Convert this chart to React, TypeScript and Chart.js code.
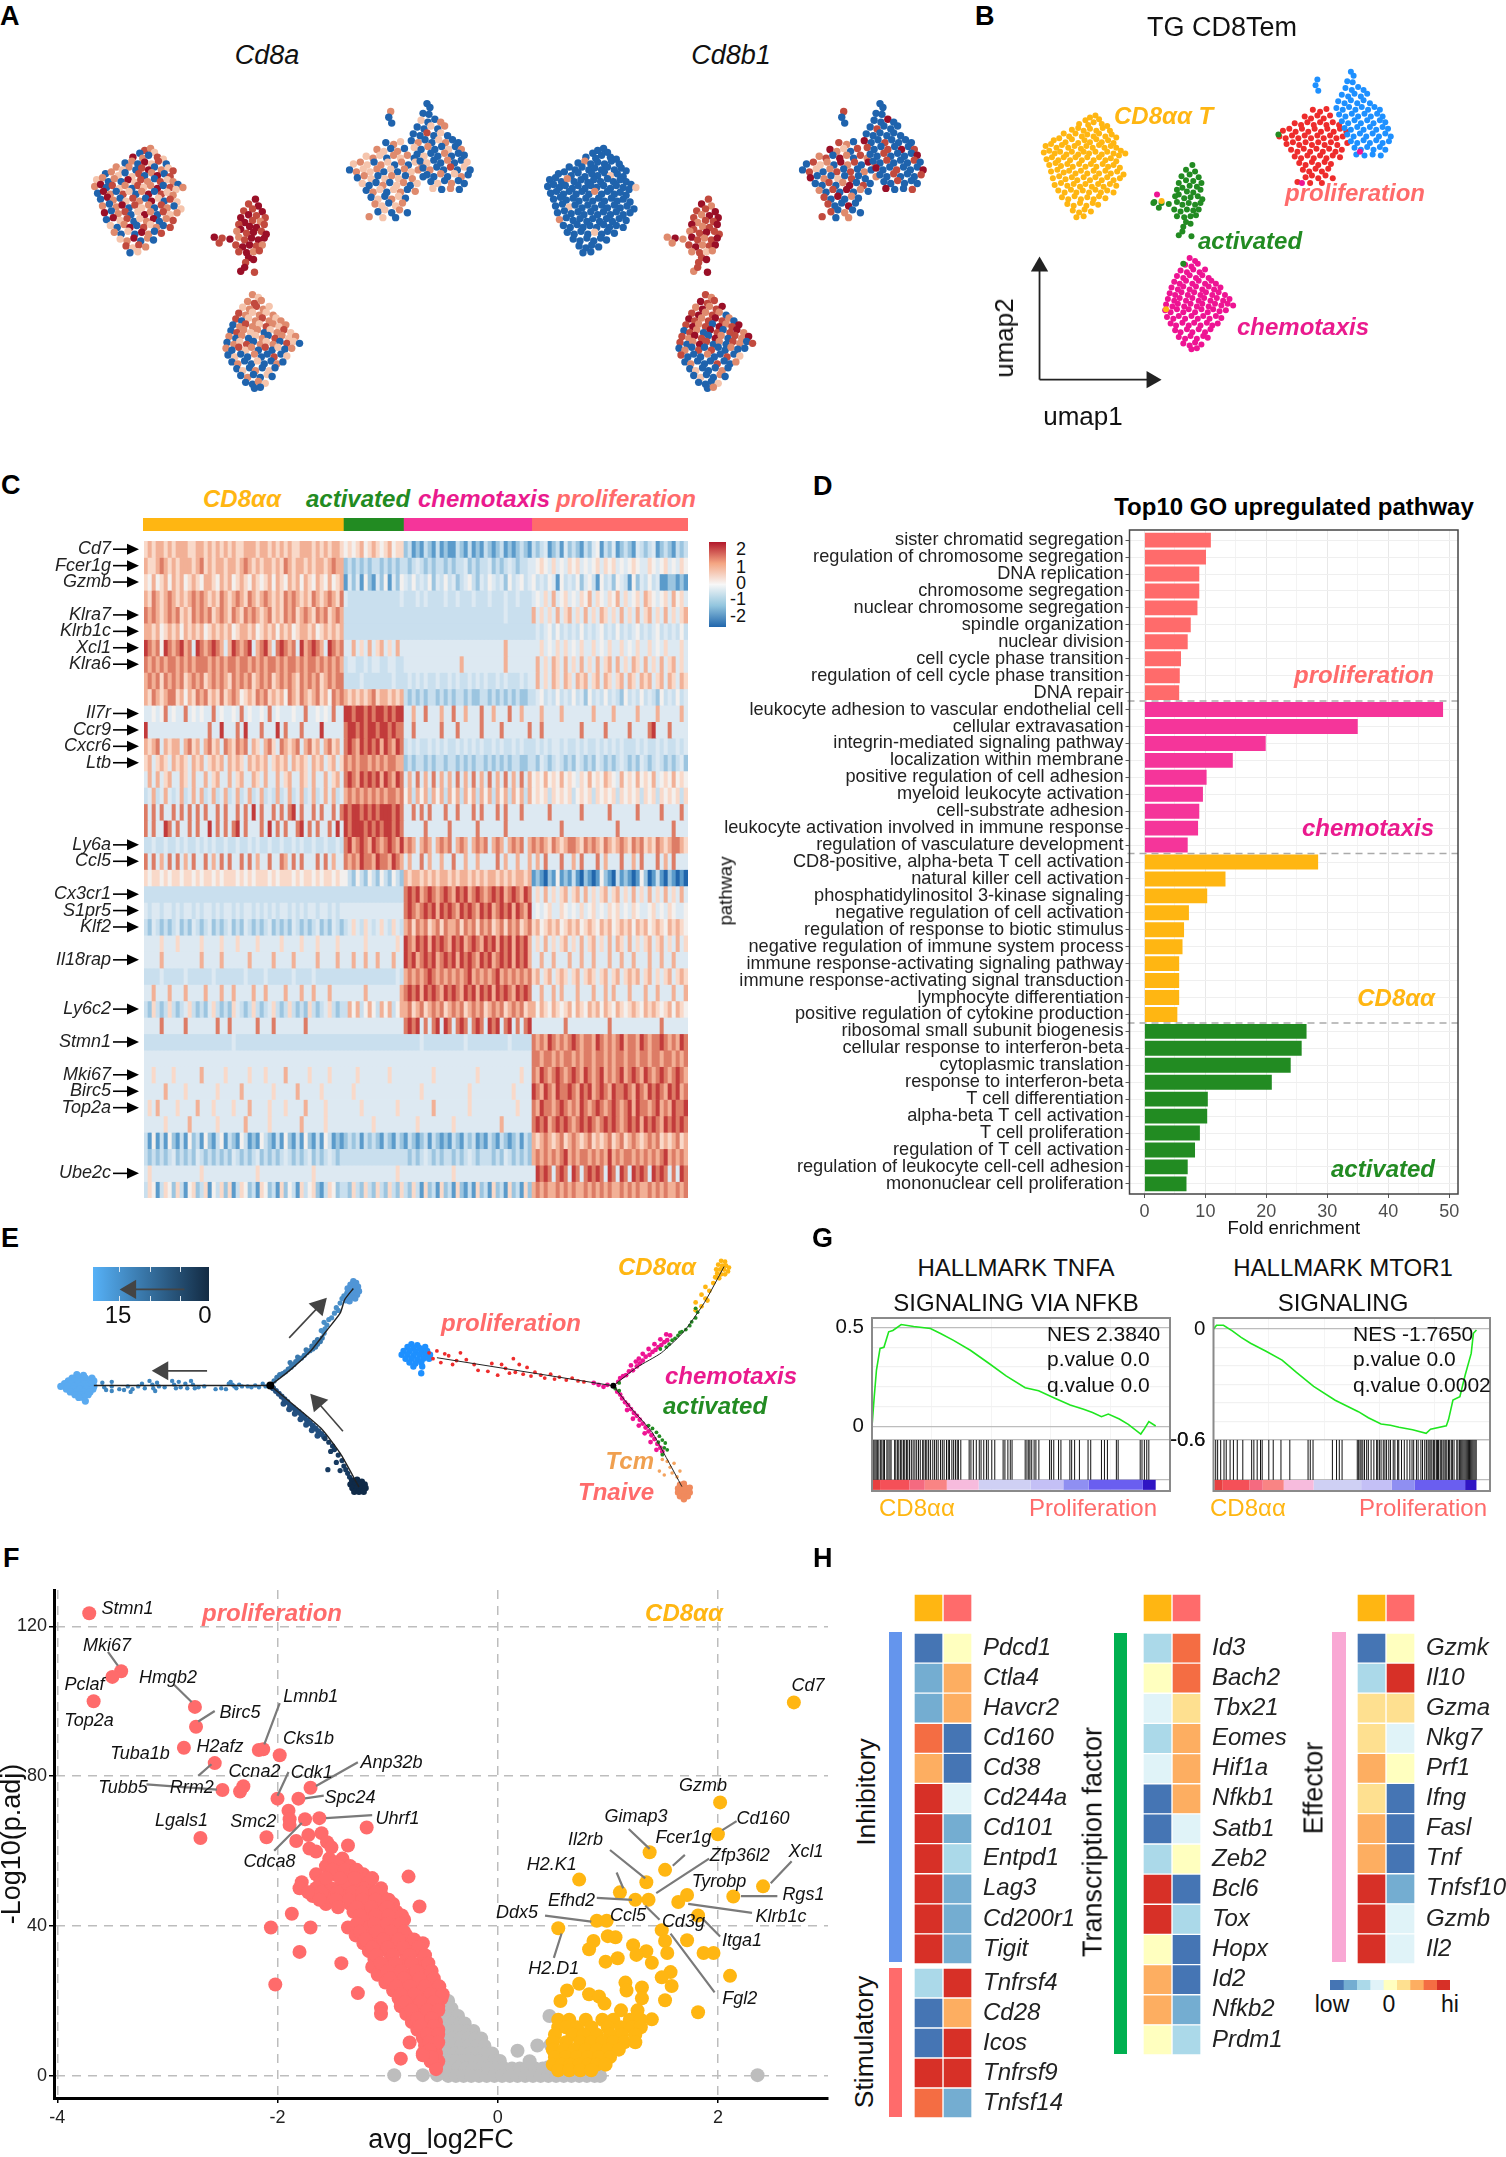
import React, { useEffect, useRef } from 'react';
import { Chart, registerables } from 'chart.js';

Chart.register(...registerables);
const FONT = "'Liberation Sans', Arial, sans-serif";
Chart.defaults.font.family = FONT;

const ORANGE = '#ffb612', RED = '#ff6b6b', GREEN = '#228b22', MAG = '#f5359a', TXT_MAG = '#ea1a8e';

/* ---------- A / B : UMAP ---------- */
const UMAP_L = [[62,58],[68,56],[57,61],[72,60],[50,65],[60,66],[66,63],[75,65],[81,67],[42,71],[49,69],[55,72],[62,70],[69,72],[76,69],[84,72],[33,75],[39,78],[46,75],[53,78],[59,76],[66,78],[72,75],[79,78],[86,76],[91,79],[22,82],[28,80],[35,84],[42,81],[49,85],[56,82],[62,84],[69,81],[75,84],[82,82],[88,85],[13,88],[19,86],[25,90],[31,87],[38,90],[45,88],[52,91],[58,88],[65,90],[72,87],[78,90],[85,88],[91,90],[96,93],[11,95],[17,93],[23,96],[29,94],[36,97],[42,94],[49,97],[55,94],[61,96],[68,94],[75,97],[81,94],[88,96],[94,98],[101,96],[14,102],[20,100],[27,103],[33,100],[40,103],[46,100],[53,103],[59,100],[66,103],[72,100],[79,103],[85,101],[91,104],[17,108],[24,106],[30,109],[37,107],[43,110],[50,107],[57,110],[63,107],[69,110],[76,107],[82,110],[88,108],[95,111],[19,115],[26,113],[33,116],[39,114],[46,117],[52,114],[59,117],[66,114],[72,117],[79,114],[85,117],[92,115],[99,118],[21,122],[28,120],[35,123],[42,121],[48,124],[55,121],[62,124],[68,121],[75,124],[81,121],[88,124],[95,122],[23,129],[30,127],[37,130],[44,128],[51,131],[57,128],[64,131],[71,128],[77,131],[84,128],[91,130],[27,135],[34,137],[41,134],[47,137],[54,135],[61,137],[68,134],[74,137],[81,135],[88,137],[31,142],[38,144],[45,141],[52,144],[59,142],[66,144],[72,141],[79,143],[37,149],[44,151],[51,148],[58,151],[65,148],[71,150],[43,156],[50,158],[56,155],[63,157],[47,163],[55,162]];
const UMAP_M = [[175,108],[168,113],[178,115],[172,118],[163,120],[182,121],[168,124],[176,125],[160,127],[185,127],[172,130],[180,131],[164,132],[158,134],[169,136],[176,137],[184,134],[160,139],[156,141],[166,143],[173,142],[181,141],[186,144],[133,147],[141,148],[149,149],[158,147],[164,150],[171,148],[178,150],[184,148],[138,153],[155,155],[162,157],[169,155],[176,156],[182,155],[158,162],[166,163],[173,162],[179,161],[168,168],[173,170],[165,173],[160,182],[174,183],[164,178]];
const UMAP_B = [[172,206],[178,209],[167,213],[174,215],[181,212],[162,219],[169,221],[176,218],[183,221],[189,218],[158,225],[165,227],[172,224],[179,227],[186,224],[193,227],[155,231],[161,233],[168,230],[175,233],[182,230],[189,233],[196,230],[201,233],[152,237],[159,239],[165,236],[172,239],[179,236],[186,239],[193,236],[199,239],[206,237],[150,243],[156,245],[163,242],[170,245],[177,242],[184,245],[190,242],[197,245],[204,242],[211,245],[148,249],[155,251],[161,248],[168,251],[175,248],[182,251],[188,248],[195,251],[202,248],[209,251],[216,249],[146,255],[153,257],[159,254],[166,257],[173,254],[180,257],[186,254],[193,257],[200,254],[207,256],[214,254],[220,256],[145,261],[151,263],[158,260],[165,263],[171,260],[178,263],[185,260],[192,263],[198,260],[205,262],[212,261],[147,268],[154,270],[160,267],[167,270],[174,267],[181,270],[187,267],[194,270],[201,267],[207,269],[151,275],[157,277],[164,274],[171,277],[177,274],[184,277],[191,274],[197,277],[203,275],[156,282],[162,284],[169,281],[175,284],[182,281],[189,284],[195,281],[160,289],[167,291],[173,288],[180,291],[187,288],[192,290],[165,296],[172,298],[178,295],[185,297],[174,302],[180,301]];
const UMAP_TR = [[308,50],[316,52],[323,49],[299,57],[306,59],[313,56],[320,59],[327,56],[288,64],[295,66],[302,63],[309,66],[316,63],[323,66],[330,63],[337,66],[275,72],[282,70],[289,73],[296,70],[303,73],[310,70],[317,73],[324,70],[331,73],[338,70],[345,73],[271,78],[278,80],[285,77],[292,80],[299,77],[306,80],[313,77],[320,80],[327,77],[334,80],[341,78],[279,86],[286,84],[293,87],[300,84],[307,87],[314,84],[321,87],[328,84],[335,87],[346,85],[284,92],[291,94],[298,91],[305,94],[312,91],[319,94],[326,91],[333,94],[340,92],[288,99],[295,101],[302,98],[309,101],[316,98],[323,101],[330,98],[338,100],[293,106],[300,108],[307,105],[314,108],[321,105],[328,107],[297,113],[304,115],[311,112],[318,115],[325,112],[300,121],[307,119],[314,122],[322,119],[330,122],[291,126],[305,127],[318,127]];
const UMAP_TB = [[350,10],[353,14],[346,20],[352,21],[313,18],[311,24],[314,30],[344,27],[351,29],[358,26],[364,29],[340,34],[347,36],[354,33],[361,36],[368,33],[336,41],[343,43],[350,40],[357,43],[364,40],[371,43],[334,48],[341,50],[348,47],[355,50],[362,47],[369,50],[376,47],[382,50],[337,55],[344,57],[351,54],[358,57],[365,54],[372,57],[379,54],[385,57],[340,62],[347,64],[354,61],[361,64],[368,61],[375,64],[382,61],[388,63],[343,69],[350,71],[357,68],[364,71],[371,68],[378,71],[385,68],[391,70],[346,76],[353,78],[360,75],[367,78],[374,75],[381,78],[388,75],[394,78],[350,83],[357,85],[364,82],[371,85],[378,82],[385,85],[392,83],[354,90],[361,92],[368,89],[375,92],[382,89],[388,92],[356,97],[365,98],[374,97],[383,98]];
const UMAP_STRAY_PINK = [[136,139],[360,94],[296,127]];
const UMAP_STRAY_ORANGE = [[141,146],[146,260]];
const UMAP_STRAY_GREEN = [[132,148],[165,212],[270,76]];
const CD8A_L = '3201420310 2041302120 3402130210 1302403120 2041320312 0240312031 2403120420 3102403120 4201320410 3120240312 0320140230 1420312041 3012402310 2403120320 1042031240 2031';
const CD8A_M = '4343344343 3243443423 4344342344 4334432342 3443434434';
const CD8A_B = '2123212321 3212123012 3212023213 2120321201 2312020120 3212021302 1203102031 2030102010 0200301020 0100200102 0100200100 0210020100 0020010030 0100200102';
const CD8A_TR = '0212102012 1021201210 2102012021 1201021202 1012102010 0201201021 0120201021 0210120102 02102010';
const CD8A_TB = '0000200100 2001020030 1002001200 1020010201 0020000100 2001020030 1000201200 1020010201 00200100';
const CD8B_L = '0000000000 2000000000 0000000000 0000100000 2000000000 0000000000 0000010000 0002000000 0000000000 0000100000 0000000000 0000000200 0000000000 0000000000 0010000000 0000';
const CD8B_M = '3423342434 3324234323 4332424323 4234234231 2343243234';
const CD8B_B = '3243324234 3423204323 4320342304 2340320430 3423243042 0324302430 2032030203 0300200300 0200301020 0030020100 0200100200 0010200300 0102003000 0200100300';
const CD8B_TR = '3204210323 0420320312 0423042031 0230302040 2010300200 3024030203 0402030402 0300403020 03020040';
const CD8B_TB = '0000300004 0030000000 0040030000 3003040300 3000040030 0030400300 0400300030 0300040030 00300400';
const EXPR_COLORS = ['#1f63ad', '#f5c4ac', '#df8a6d', '#c24a3e', '#9a0f27'];

/* ---------- C : heat map ---------- */
const C_GROUP_SIZES = [50, 15, 32, 39];
const C_GROUP_COLORS = [ORANGE, GREEN, MAG, RED];
const C_GENE_ROWS: [string, number][] = [['Cd7',0],['Fcer1g',1],['Gzmb',2],['Klra7',4],['Klrb1c',5],['Xcl1',6],['Klra6',7],['Il7r',10],['Ccr9',11],['Cxcr6',12],['Ltb',13],['Ly6a',18],['Ccl5',19],['Cx3cr1',21],['S1pr5',22],['Klf2',23],['Il18rap',25],['Ly6c2',28],['Stmn1',30],['Mki67',32],['Birc5',33],['Top2a',34],['Ube2c',38]];
const C_HEAT_COLORS = ['#2166ac','#5b9bcb','#9cc5e0','#c9dfee','#dde9f2','#f3f0ee','#f9d9c9','#f2b096','#dd7c66','#c23b3b'];
const C_ROWS = [
'6767767677 7667767676 7676677767 7676767667 7767676776|5656756765 67566|2312132131 2113213121 3212312123 21|3234123142 3213245132 4123214323 412321323',
'7667876767 7767867677 6776787676 7767687677 6767767877|2323232332 32323|3234323233 2323342323 3423234323 34|4565464546 5645456465 6454565446 545645465',
'6575675767 5676577657 6756765765 6757657675 7657657567|1424152142 51425|4353435243 5342345324 3543425345 34|5343541534 3524531534 2543152435 341122121',
'7687678767 6787876768 7678768767 8767687876 7687678768|4333333333 33334|3334343333 4334333433 3433343343 33|4546474564 5465746546 5746456476 545647564',
'8787678786 7687878678 7687687876 7867687867 8768786787|3333333333 33333|3333333333 3333333333 3333343333 33|7464647467 4647464764 6474647467 464746467',
'7767567675 7676756767 6756776756 7675767567 7675676767|3333333333 33333|3333333333 3333333333 3333333333 33|3434535343 4353434534 3534345343 453434353',
'9878598789 7849878987 4798789478 9748987849 7898749878|4474647467 46474|4444444444 4444444444 4444474444 44|4464546464 5464464546 4464546446 454644464',
'8787878878 7878887878 7887887878 7887878878 7887878787|3443343443 34433|4444444444 4444744444 4444474444 44|4746476474 6474647467 4746476474 647467464',
'7878687878 6787867878 7687878678 7867878768 7878678788|3333433333 33433|3434343343 3434334343 4334343334 34|4746476476 4767467476 4674764767 467476476',
'7687678867 5768786768 6787567687 8676758768 7678675878|7676767867 76767|3232323323 2323323223 3232323232 23|3453435343 5342534353 4325343534 3253435343',
'4454584544 8454544845 4454845445 4845444544 8445454844|9989989899 89899|4474484447 4484474448 4474448447 44|4474444744 4444474444 7444447444 474444474',
'9444444444 4444448449 4448494448 4449484448 4444944444|8998989989 98988|4484444448 4448444448 4444844444 48|4484444444 4484444484 4444844448 944484444',
'7678476774 7867478674 8768784764 7864876784 7867478674|8987989897 98798|3434334343 4334343434 3343433434 33|3434344343 3434334343 4343334343 343433434',
'6746764767 6476746767 4767647676 7467674767 6476746746|8787887878 78877|2323323233 2332323233 2323232332 23|3243234323 2432324323 2343232432 343232342',
'4747467447 6474474674 4746744764 7447467447 6474474674|8987989897 98798|4748474847 4748474847 4847484748 47|5657565756 5465756576 5475657565 745657565',
'3473474347 3474734734 7347347347 3437347347 3473474734|7878787878 78878|5737573757 3757375737 5737573757 37|5656365656 3565636565 6365656365 636565636',
'8484844848 4848484484 8448484948 4484848948 4484844848|9899898989 99898|4484848444 8448444848 4448484448 44|4444844444 4484444448 4444448444 448444484',
'8484498484 4848449484 8489484448 4948484489 4848448494|9899989898 99898|4444484444 4844444484 4444484444 44|4444444844 4444444444 4844444444 444448444',
'3343343343 4334343433 4334334343 3433433434 3343343343|8978987987 89879|7874787478 7847874787 8478747878 47|8787687678 8768787687 6787687867 687678876',
'8484748484 7484484748 4844848474 4844874848 4448484744|8787988798 87987|4744847447 4484474474 4448474474 47|4748444844 7484448474 4484474844 484748444',
'6566565665 6656566565 6665656566 6565666565 6656566565|5325325325 32532|7677676767 7676776767 6776767677 67|1210215121 3102101521 0312101520 131021010',
'3333333333 3333333333 3333333333 3333333333 3333333333|3333333333 33333|8989789878 9879897898 7898978987 98|4647464674 6747464674 6746474647 464746474',
'4344344343 4434344343 4434344343 4343443434 3443443434|4444444444 44444|8987898979 8987989879 8978989798 79|4545644654 5464564546 5645465445 645465445',
'3243232342 3243234232 3423243232 3423232432 3234232432|3464364346 43643|7868786786 8778687868 7867868786 78|6756767567 6756765767 5676757675 676576765',
'4444644464 4444644446 4446444464 4444644446 4446444464|4444464444 44464|9879897989 8798978987 9897989798 97|4647464674 6474674647 4764746467 467464746',
'4444744444 4444744447 4444447444 4474444744 4447444474|4474474474 44744|9897898978 9897989879 8978989798 97|4474474447 4474474447 4474474447 447447444',
'3333433333 4333333433 3333343333 4333333433 3343333333|3333333333 33343|7878789878 7878789787 8789787878 78|6746746764 6746764674 6746767467 464674676',
'4474447444 7444474447 4474444744 7444474447 4474447444|4444474444 44447|8989798987 9898798979 8979898798 98|4474474744 4744474474 7444744474 474447447',
'3263236323 4632324632 3264323632 3463236323 2632346323|3757357537 57357|7867867878 6787867878 6787867878 67|7576576567 5765767576 5765676576 765675765',
'4444844444 8444444484 4844444484 4484444444 8444444444|4444444444 44444|8989484894 9848984898 4989489484 89|4444444484 4444444448 4444444444 448444444',
'3333333333 3333333333 3343333333 3333333333 3333333333|3333333333 33333|3333433333 3333343333 3333334333 33|8787987878 9878879878 7897887987 889878798',
'4444444444 4444444444 4444444444 4444444444 4444444444|4444444444 44444|4444444444 4444444444 4444444444 44|8878878788 7878878878 7887887887 887887878',
'4464444644 4444744444 6444446444 6444474444 4644446444|4446444444 46444|4444444644 4444444464 4444444446 44|8798789878 9879878978 7897898798 789878987',
'4444474444 6444444464 4444744444 4464444474 4444644444|4464444444 44444|4444644444 4444446444 4444444644 44|9879879889 8798978987 9889879879 898798978',
'4647444464 4447444644 4464447444 4644464444 7444464444|4444644444 44464|4444444744 4444446444 4444444464 44|8798878987 8798789878 9878979887 897879889',
'4444464444 4744444464 4444474444 4644444447 4444464444|4444444644 44444|4446444444 4464444444 4444744444 44|8989789898 7898987898 9878989798 987989898',
'3151315213 1523152135 1321531215 3213152131 5213153121|2323132321 32132|1321231321 2132132312 1321321231 32|7678767867 8767867678 6786787678 786767867',
'3232323423 2324323232 3243232342 3232343232 3423234323|3333333333 33333|3232343232 3323234323 3323243232 32|7878787897 8788787879 7878878787 878978787',
'4644444444 4444644444 4444444464 4444444444 4464444444|4444444444 44464|4444444444 4464444444 4444444444 44|4989848984 9848989849 8498498984 989848498',
'3651365263 1562361536 2613652316 5231625316 3562136523|3263263263 26326|3263162316 2316213162 3162316231 62|7878778787 8778787878 7787878778 787877878',
];

/* ---------- D : GO bars ---------- */
const D_LABELS = ['sister chromatid segregation','regulation of chromosome segregation','DNA replication','chromosome segregation','nuclear chromosome segregation','spindle organization','nuclear division','cell cycle phase transition','regulation of cell cycle phase transition','DNA repair','leukocyte adhesion to vascular endothelial cell','cellular extravasation','integrin-mediated signaling pathway','localization within membrane','positive regulation of cell adhesion','myeloid leukocyte activation','cell-substrate adhesion','leukocyte activation involved in immune response','regulation of vasculature development','CD8-positive, alpha-beta T cell activation','natural killer cell activation','phosphatidylinositol 3-kinase signaling','negative regulation of cell activation','regulation of response to biotic stimulus','negative regulation of immune system process','immune response-activating signaling pathway','immune response-activating signal transduction','lymphocyte differentiation','positive regulation of cytokine production','ribosomal small subunit biogenesis','cellular response to interferon-beta','cytoplasmic translation','response to interferon-beta','T cell differentiation','alpha-beta T cell activation','T cell proliferation','regulation of T cell activation','regulation of leukocyte cell-cell adhesion','mononuclear cell proliferation'];
const D_PROLIF = [10.9,10.1,9.0,9.0,8.7,7.6,7.1,6.0,5.8,5.7];
const D_CHEMO = [49,35,19.9,14.5,10.2,9.6,9.0,8.8,7.1];
const D_CD8 = [28.5,13.3,10.3,7.3,6.5,6.25,5.7,5.7,5.7,5.4];
const D_ACT = [26.6,25.8,24,20.9,10.4,10.3,9.1,8.3,7.1,6.9];
const D_BREAKS = [9.5, 18.5, 28.5];

/* ---------- E : trajectories ---------- */
const E1_BLOB = [[-205,-12],[-198,-11],[-210,-8],[-203,-8],[-196,-8],[-189,-8],[-214,-5],[-207,-5],[-200,-5],[-193,-5],[-187,-5],[-218,-2],[-211,-2],[-204,-2],[-197,-2],[-190,-2],[-222,1],[-215,1],[-208,1],[-201,1],[-194,1],[-187,1],[-216,4],[-209,4],[-202,4],[-195,4],[-188,4],[-212,7],[-205,7],[-198,7],[-191,7],[-207,10],[-200,10],[-193,10],[-198,13],[-196,17],[-203,13]];
const E1_LEFT = [[-178,-3],[-176,2],[-174,5],[-168,-4],[-168,1],[-168,6],[-160,4],[-155,5],[-151,1],[-148,7],[-146,4],[-140,1],[-136,-2],[-133,3],[-128,-5],[-125,-1],[-124,3],[-122,6],[-120,-3],[-118,1],[-112,2],[-104,-5],[-102,-1],[-100,3],[-97,-4],[-95,2],[-90,-2],[-88,3],[-84,-5],[-82,-1],[-80,3],[-76,2],[-70,1],[-58,4],[-52,3],[-47,4],[-44,-2],[-42,-4],[-40,-1],[-38,1],[-36,3],[-33,-1],[-30,1],[-24,1],[-20,2],[-16,0],[-12,2],[-8,-2],[-5,1]];
const E1_UP_NEAR = [[4,-5],[7,-9],[10,-12],[13,-13],[16,-15],[19,-18],[22,-20],[25,-23],[21,-25],[27,-26],[30,-28],[33,-30],[29,-31],[36,-33],[39,-36],[42,-38],[38,-39],[45,-40],[48,-42],[44,-43],[50,-45],[47,-47],[53,-48],[50,-50],[55,-52]];
const E1_UP_FAR = [[57,-57],[54,-60],[58,-62],[60,-66],[57,-69],[62,-72],[65,-74],[68,-79],[72,-82],[70,-85],[74,-90],[76,-95],[78,-98],[81,-101]];
const E1_UP_BLOB = [[88,-114],[91,-112],[85,-110],[89,-109],[93,-108],[82,-106],[86,-105],[90,-104],[94,-103],[84,-101],[88,-100],[92,-99],[82,-97],[86,-96],[90,-95],[80,-93],[84,-92]];
const E1_DN_NEAR = [[3,3],[6,6],[9,9],[12,12],[15,15],[18,18],[14,20],[21,22],[24,24],[20,26],[27,27],[30,29],[26,31],[33,32],[36,35],[32,37],[39,38],[42,41],[38,43],[45,44],[48,47],[44,49],[51,50],[54,53],[50,55],[57,56]];
const E1_DN_FAR = [[58,58],[62,62],[66,66],[68,70],[64,72],[72,76],[76,82],[70,84],[78,88],[80,92],[82,96],[84,100],[86,103],[61,92],[74,93],[88,104]];
const E1_DN_BLOB = [[87,104],[92,103],[97,105],[85,108],[90,108],[95,108],[100,108],[87,112],[92,112],[97,112],[101,112],[89,116],[94,116],[99,116]];
const E1_LINE_L = [[-187,0],[0,0]];
const E1_LINE_U = [[0,0],[20,-16],[43,-38],[59,-59],[74,-79],[79,-94],[88,-106]];
const E1_LINE_D = [[0,0],[28,24],[54,47],[74,74],[94,111]];
const E2_BLUE = [[-206,-43],[-200,-42],[-210,-40],[-204,-39],[-198,-39],[-192,-40],[-214,-36],[-208,-36],[-202,-35],[-196,-36],[-190,-36],[-216,-32],[-210,-32],[-204,-31],[-198,-32],[-192,-32],[-187,-32],[-212,-28],[-206,-28],[-200,-27],[-194,-28],[-188,-28],[-208,-24],[-202,-23],[-196,-24],[-204,-20],[-195,-20],[-196,-13]];
const E2_RED = [[-188,-34],[-184,-28],[-180,-36],[-176,-24],[-172,-33],[-168,-31],[-164,-22],[-160,-26],[-156,-34],[-150,-27],[-142,-22],[-138,-16],[-128,-15],[-124,-23],[-118,-11],[-114,-22],[-110,-18],[-106,-13],[-102,-28],[-100,-14],[-96,-22],[-92,-12],[-88,-19],[-84,-10],[-80,-14],[-74,-11],[-70,-8],[-64,-12],[-60,-7],[-55,-9],[-48,-6],[-42,-8],[-36,-5],[-30,-4]];
const E2_MAG = [[-20,-3],[-15,-1],[-10,1],[-6,-1],[7,-8],[5,-4],[10,-10],[13,-11],[16,-15],[20,-16],[18,-21],[24,-20],[23,-25],[27,-23],[26,-28],[30,-26],[33,-30],[30,-33],[37,-32],[40,-35],[36,-38],[43,-37],[46,-40],[42,-43],[49,-42],[52,-45],[48,-48],[55,-47],[58,-52],[54,-53],[4,6],[7,9],[9,13],[12,17],[15,20],[18,24],[14,25],[21,28],[24,31],[20,34],[27,35],[30,39],[26,41],[33,43],[36,47],[32,49],[39,51],[42,55],[38,58],[45,60],[48,64],[44,66],[50,68]];
const E2_GREEN = [[6,-3],[48,-38],[54,-40],[57,-43],[60,-47],[63,-49],[66,-52],[70,-56],[68,-55],[74,-58],[78,-62],[80,-66],[84,-70],[86,-76],[84,-80],[2,3],[6,5],[36,41],[40,44],[44,48],[47,52],[50,56],[46,58],[53,59],[52,64],[55,66],[50,71]];
const E2_ORANGE = [[84,-78],[90,-82],[84,-86],[94,-90],[90,-94],[98,-98],[94,-102],[102,-106],[105,-112],[96,-88],[110,-129],[114,-128],[107,-125],[111,-124],[115,-124],[118,-122],[105,-120],[109,-120],[113,-120],[117,-118],[106,-116],[110,-115],[114,-115],[104,-112],[108,-111]];
const E2_TCM = [[50,76],[55,78],[47,88],[58,84],[62,80],[60,90],[65,94],[68,88],[52,92],[70,101]];
const E2_TN = [[68,102],[72,101],[66,106],[70,106],[74,105],[78,105],[66,110],[70,110],[74,110],[78,110],[68,114],[72,114],[76,114],[72,117]];
const E2_LINE_L = [[-180,-29],[0,0]];
const E2_LINE_U = [[0,0],[24,-19],[49,-34],[72,-56],[93,-86],[113,-123]];
const E2_LINE_D = [[0,0],[19,24],[39,47],[54,74],[70,104]];
const E_BAR_TICKS = [119, 149.5, 179.5];

/* ---------- F : volcano ---------- */
const V_RED = [[-3.71,123.5],[-3.42,108],[-3.5,106.5],[-3.67,100],[-2.75,98.5],[-2.74,93.2],[-2.85,87.6],[-2.17,87],[-2.13,87.2],[-1.98,85.6],[-2.57,83.5],[-2.5,76.3],[-2.31,77.3],[-2.34,75.9],[-1.7,76.9],[-2,74],[-1.81,74],[-1.9,70.8],[-1.89,68.5],[-1.89,67],[-1.75,68.5],[-1.62,68.8],[-1.19,66.3],[-2.7,63.5],[-2.1,63.7],[-1.83,62.7],[-1.72,64.3],[-1.6,64.8],[-1.55,62.4],[-1.51,61],[-1.36,61.5],[-1.71,60.7],[-1.65,59.9],
[-1.53,58],[-1.41,58],[-1.56,56],[-1.44,56],[-1.34,56],[-1.65,53.8],[-1.48,53.8],[-1.36,53.8],[-1.22,53.8],[-1.78,51.7],[-1.61,51.7],[-1.41,51.7],[-1.29,51.7],[-1.17,51.7],[-1.8,50.1],[-1.65,50.1],[-1.51,50.1],[-1.36,50.1],[-1.22,50.1],[-1.06,50.1],[-1.68,48],[-1.56,48],[-1.41,48],[-1.29,48],[-1.17,48],[-1.05,48],[-1.56,45.9],[-1.34,45.9],[-1.22,45.9],[-1.07,45.9],[-0.95,45.9],[-1.31,43.8],[-1.17,43.8],[-1.05,43.8],[-0.92,43.8],[-1.22,41.7],[-1.09,41.7],[-0.95,41.7],[-0.85,41.7],[-1.36,39.6],[-1.17,39.6],[-1.05,39.6],[-0.9,39.6],[-1.29,37.5],[-1.12,37.5],[-0.97,37.5],[-0.83,37.5],[-1.22,35.4],[-1.07,35.4],[-0.9,35.4],[-0.78,35.4],[-0.68,35.4],[-1.17,33.3],[-1,33.3],[-0.85,33.3],[-0.71,33.3],[-1.12,31.2],[-0.97,31.2],[-0.83,31.2],[-0.68,31.2],[-1.14,29.1],[-1.02,29.1],[-0.88,29.1],[-0.73,29.1],[-0.63,29.1],[-1.09,27],[-0.95,27],[-0.8,27],[-0.66,27],[-1.02,24.9],[-0.9,24.9],[-0.75,24.9],[-0.61,24.9],[-0.95,22.8],[-0.83,22.8],[-0.68,22.8],[-0.56,22.8],[-0.9,20.7],[-0.75,20.7],[-0.63,20.7],[-0.51,20.7],[-0.88,18.6],[-0.73,18.6],[-0.61,18.6],[-0.54,18.6],[-0.83,16.5],[-0.68,16.5],[-0.58,16.5],[-0.78,14.4],[-0.66,14.4],[-0.56,14.4],[-0.73,12.3],[-0.61,12.3],[-0.54,12.3],[-0.68,10.2],[-0.56,10.2],[-0.66,8.1],[-0.56,8.1],[-0.68,6],[-0.56,6],[-0.61,3.9],[-0.54,3.9],[-0.56,1.8],
[-1.48,57],[-1.5,55],[-1.39,55],[-1.28,55],[-1.56,52.8],[-1.43,52.8],[-1.3,52.8],[-1.14,52.8],[-1.72,49],[-1.6,49],[-1.46,49],[-1.32,49],[-1.23,49],[-1.11,49],[-1.62,47],[-1.47,47],[-1.35,47],[-1.23,47],[-1.11,47],[-0.99,47],[-1.45,45],[-1.28,45],[-1.15,45],[-1,45],[-1.25,42.8],[-1.11,42.8],[-0.99,42.8],[-0.87,42.8],[-1.28,40.6],[-1.12,40.6],[-1,40.6],[-0.88,40.6],[-1.25,38.5],[-1.1,38.5],[-0.97,38.5],[-0.85,38.5],[-1.2,36.4],[-1.04,36.4],[-0.9,36.4],[-0.76,36.4],[-1.14,34.3],[-1,34.3],[-0.86,34.3],[-0.72,34.3],[-1.1,32.2],[-0.95,32.2],[-0.8,32.2],[-0.66,32.2],[-1.06,30.1],[-0.93,30.1],[-0.78,30.1],[-0.63,30.1],[-1,28],[-0.88,28],[-0.74,28],[-0.6,28],[-0.98,26],[-0.85,26],[-0.71,26],[-0.58,26],[-0.92,23.9],[-0.8,23.9],[-0.66,23.9],[-0.53,23.9],[-0.88,21.8],[-0.76,21.8],[-0.61,21.8],[-0.5,21.8],[-0.84,19.7],[-0.7,19.7],[-0.58,19.7],[-0.78,17.5],[-0.64,17.5],[-0.54,17.5],[-0.73,15.4],[-0.6,15.4],[-0.7,13.3],[-0.58,13.3],[-0.64,11.2],[-0.54,11.2],[-0.62,9],[-0.54,9],[-0.62,7],[-0.6,5],
[-0.81,53.2],[-0.71,45.2],[-1.87,43.3],[-2.06,39.6],[-1.7,39.6],[-1.8,33.1],[-1.42,30.1],[-2.02,24.4],[-1.27,22.1],[-1.06,18.1],[-1.06,16.5],[-0.8,8.9],[-0.88,4.6],[-0.68,5.5]];
const V_ORANGE = [[2.69,99.7],[2.02,73],[2,64.5],[1.38,59.7],[1.52,55],[0.74,52.4],[1.35,51.7],[1.11,49],[2.41,50.6],[2.14,47.9],[1.72,48.3],[1.64,46.4],[1.25,47],[1.37,47],[1.82,42.8],[0.9,41.4],[0.99,41.4],[0.55,39.4],[1.49,38.9],[1,37.3],[1.07,37],[1.52,36],[1.72,36.2],[0.87,36],[0.83,33.8],[1.23,34.9],[1.35,33.3],[1.26,32.3],[1.09,31.4],[0.98,30.5],[1.54,32.8],[1.87,32.8],[1.96,32.8],[1.4,30.2],[1.57,27.7],[1.49,26.3],[2.11,26.7],[1.16,24.9],[1.58,24],[1.17,22.8],[1.31,23.6],[0.74,24.6],[0.63,22.8],[0.57,20],[0.83,21.8],[0.92,21.2],[0.97,19.3],[1.31,20.7],[1.52,20.2],[1.82,17],[1.12,17.5],[1.27,17.5],[1.4,15.1],
[0.55,15],[0.65,15],[0.8,15],[0.95,15],[1.05,15],[1.2,15],[1.3,15],[0.55,13],[0.62,13],[0.72,13],[0.85,13],[1,13],[1.12,13],[1.22,13],[1.3,13],[0.52,11],[0.68,11],[0.78,11],[0.9,11],[1.02,11],[1.13,11],[1.25,11],[0.5,9],[0.62,9],[0.75,9],[0.85,9],[0.95,9],[1.05,9],[1.15,9],[1.25,9],[0.5,7],[0.6,7],[0.7,7],[0.8,7],[0.9,7],[1,7],[1.1,7],[0.52,5],[0.62,5],[0.72,5],[0.82,5],[0.92,5],[1.02,5],[0.5,3],[0.58,3],[0.66,3],[0.74,3],[0.82,3],[0.9,3],[0.98,3],[0.55,1.5],[0.65,1.5],[0.75,1.5],[0.85,1.5]];
const V_GRAY = [[-0.5,20],[-0.45,20],[-0.54,18],[-0.47,18],[-0.42,18],[-0.54,16],[-0.47,16],[-0.4,16],[-0.36,16],[-0.55,14],[-0.48,14],[-0.41,14],[-0.34,14],[-0.3,14],[-0.55,12],[-0.48,12],[-0.41,12],[-0.34,12],[-0.27,12],[-0.22,12],[-0.55,10],[-0.48,10],[-0.41,10],[-0.34,10],[-0.27,10],[-0.2,10],[-0.15,10],[-0.54,8],[-0.47,8],[-0.4,8],[-0.33,8],[-0.26,8],[-0.19,8],[-0.12,8],[-0.53,6],[-0.46,6],[-0.39,6],[-0.32,6],[-0.25,6],[-0.18,6],[-0.11,6],[-0.05,6],[-0.52,4],[-0.45,4],[-0.38,4],[-0.31,4],[-0.24,4],[-0.17,4],[-0.1,4],[-0.03,4],[0.02,4],[-0.5,2],[-0.43,2],[-0.36,2],[-0.29,2],[-0.22,2],[-0.15,2],[-0.08,2],[-0.01,2],[0.06,2],[0.13,2],[0.2,2],[0.27,2],[0.34,2],[0.41,2],[0.48,2],[0.55,2],[0.62,2],[0.69,2],[0.76,2],[0.83,2],[0.9,2],[-0.45,0],[-0.38,0],[-0.31,0],[-0.24,0],[-0.17,0],[-0.1,0],[-0.03,0],[0.04,0],[0.11,0],[0.18,0],[0.25,0],[0.32,0],[0.39,0],[0.46,0],[0.53,0],[0.6,0],[0.67,0],[0.74,0],[0.81,0],[0.88,0],[0.93,0],[-0.94,0.2],[-0.68,0.2],[-0.55,0.2],[2.36,0.2],[0.47,16],[0.18,6.7],[0.36,8.1],[0.48,8.3],[0.29,3.9],[0.46,2.3]];
const V_LEADERS = [[-3.54,113.2,-3.45,109.5],[-2.94,104.4,-2.78,99.8],[-2.57,97.4,-2.72,94.6],[-1.98,99.5,-2.12,88.5],[-2.6,83.2,-2.72,80.1],[-3.19,77.8,-2.55,76.4],[-1.9,81.1,-2,74.8],[-1.27,83.7,-1.65,77.4],[-1.58,74.8,-1.75,74.1],[-1.14,69.6,-1.56,68.8],[-2.03,60.1,-1.78,67.5],[2.17,68,2.04,65.6],[1.19,65.9,1.38,60.6],[1.7,59,1.59,56.1],[1.02,60.3,1.34,52.7],[1.92,58,1.44,48.8],[1.08,54.3,1.14,50.1],[2.67,57.3,2.48,51.4],[2.54,48,2.21,48],[0.9,47.5,1.22,47],[0.43,42.8,0.85,41.2],[1.34,45.4,1.47,41.7],[2.31,43.5,1.73,45.9],[2.02,37.2,1.87,41.7],[0.51,31.5,0.58,38],[1.97,22.3,1.57,38]];
const V_XTICKS = [-4,-2,0,2];
const V_YTICKS = [0,40,80,120];
const V_LABEL_LAYOUT: [string, number, number][] = [['Stmn1',127.5,1607.7],['Mki67',107,1645],['Pclaf',84.6,1684],['Hmgb2',168,1677],['Top2a',89,1719.5],['Lmnb1',310.7,1696],['Birc5',240,1711.7],['Cks1b',308.5,1738],['Tuba1b',140,1753.4],['H2afz',220,1745.5],['Anp32b',391.5,1762.4],['Ccna2',254.4,1770.7],['Cdk1',311.7,1771.5],['Tubb5',123,1787],['Rrm2',191.7,1787],['Spc24',350,1796.7],['Lgals1',181.6,1819.5],['Smc2',253.3,1820.7],['Uhrf1',397.4,1818],['Cdca8',269.4,1861],['Cd7',808,1685],['Gzmb',703,1785],['Gimap3',636,1815.6],['Cd160',763,1818],['Il2rb',585.4,1839],['Fcer1g',683.4,1837],['Xcl1',806,1851],['Zfp36l2',739.7,1855],['H2.K1',551.7,1863.6],['Tyrobp',719,1880.6],['Rgs1',803.4,1893.5],['Efhd2',571.5,1900],['Ddx5',517,1912],['Ccl5',628,1915],['Klrb1c',781,1916],['Cd3g',683.4,1920.7],['Itga1',742,1940.4],['H2.D1',553.8,1968],['Fgl2',739.7,1997.5]];

/* ---------- G : GSEA ---------- */
const G1_RANK = [0,0.75,1.5,2.7,4,5.6,7,9.8,14,19.6,23,27.2,33,39.3,45,51.4,55.9,61,66.5,71,74,77,79.3,83,86,90.2,91.5,92.9,95.2];
const G1_ES = [0,0.15,0.285,0.394,0.4,0.478,0.485,0.515,0.505,0.495,0.47,0.436,0.385,0.318,0.255,0.195,0.18,0.145,0.108,0.086,0.07,0.049,0.062,0.037,0.01,-0.039,-0.01,0.024,0.002];
const G1_HITS = [0.2,0.6,1,1.4,1.8,2.3,2.9,3.3,3.8,4.2,5,5.4,6,6.4,7.6,8,8.6,9,9.6,10,10.6,11,11.6,12,12.6,13.2,13.8,14.4,15,15.6,16.2,17,17.4,18,18.4,19,19.6,20.4,21,21.6,22.2,23,23.6,24.2,25,25.6,26,26.8,27.4,28,28.6,29,29.8,32.6,33.2,34,35,36,36.6,37.5,38.4,39,40.2,41.2,44,44.6,45.6,46.4,47,51.4,52,52.6,53,53.6,54.4,55,56,59.6,60.2,61,62.6,63.4,66.4,67,68,69.6,72.5,73.4,77,78,79,82,82.6,90,90.6,91.4,92.2,92.9];
const G1_RIBBON = [0,2.7,12.5,17.7,25.1,35.8,53.2,64.2,72.7,90.9,95.2];
const G2_RANK = [0,1.1,3.6,6.8,10,13.4,19,24.8,30,36.2,44,52.4,56,60.6,64,67.1,72,76.9,78.5,84.2,85,86.6,89.1,91,93.2,94,95.1];
const G2_ES = [0,0.02,0.02,-0.01,-0.045,-0.077,-0.12,-0.168,-0.235,-0.31,-0.385,-0.447,-0.48,-0.514,-0.52,-0.531,-0.545,-0.564,-0.542,-0.524,-0.49,-0.384,-0.366,-0.25,-0.132,-0.023,-0.005];
const G2_HITS = [0.8,1.5,2.6,3.8,4.6,6,7.2,8.6,10.6,13.8,14.6,15.8,17,17.6,20,21.6,24.4,27.6,34.2,35,36,43,44.5,45.5,46.5,52,52.5,53,53.4,54,54.6,55.4,56,57,58,59,59.4,60,60.6,61.4,62,62.6,63.4,64,65,65.6,66.6,67,68,69,70,71,71.8,72.4,73.4,74,75,75.6,76.4,77,77.6,78,78.6,79,79.6,80,80.6,81,81.4,82,82.4,83,83.4,84,84.4,85,85.4,86,86.4,87,88,88.4,89,89.4,89.8,90.2,90.6,91,91.4,91.8,92.2,92.6,93,93.4,93.8,94.2,94.6,95];
const G2_RIBBON = [0.3,3.3,13,17.8,25.4,36.2,53.4,64.5,72.8,91,95.1];
const G_RIBBON_COLORS = ['#e74040','#f55058','#f56a80','#f98484','#f7bbdd','#cfd0f4','#c4c0f6','#8f8ff2','#6a5ef0','#3015c4'];

/* ---------- H : marker tiles ---------- */
const H_SCALE = ['#4575b4','#74add1','#abd9e9','#e0f3f8','#ffffbf','#fee090','#fdae61','#f46d43','#d73027'];
const H_INHIB = ['Pdcd1','Ctla4','Havcr2','Cd160','Cd38','Cd244a','Cd101','Entpd1','Lag3','Cd200r1','Tigit'];
const H_INHIB_A = [0,1,1,7,6,8,8,8,8,8,8];
const H_INHIB_B = [4,6,6,0,0,3,1,2,1,1,1];
const H_STIM = ['Tnfrsf4','Cd28','Icos','Tnfrsf9','Tnfsf14'];
const H_STIM_A = [2,0,0,8,7];
const H_STIM_B = [8,6,8,8,1];
const H_TF = ['Id3','Bach2','Tbx21','Eomes','Hif1a','Nfkb1','Satb1','Zeb2','Bcl6','Tox','Hopx','Id2','Nfkb2','Prdm1'];
const H_TF_A = [2,4,3,2,3,0,0,2,8,8,4,6,6,4];
const H_TF_B = [7,7,5,6,6,6,3,4,0,2,0,0,1,2];
const H_EFF = ['Gzmk','Il10','Gzma','Nkg7','Prf1','Ifng','Fasl','Tnf','Tnfsf10','Gzmb','Il2'];
const H_EFF_A = [0,2,5,5,6,5,6,6,8,8,8];
const H_EFF_B = [4,8,5,3,4,0,0,0,1,3,3];

/* ---------- helpers ---------- */
const xy = (pts: number[][]) => pts.map(p => ({ x: p[0], y: p[1] }));
const dots = (pts: number[][], color: any, r: number) => ({
  data: xy(pts), backgroundColor: color, borderWidth: 0, pointRadius: r, pointBorderWidth: 0, showLine: false,
});
const line = (pts: number[][], color: string, w: number, extra: any = {}) => ({
  data: xy(pts), borderColor: color, borderWidth: w, pointRadius: 0, showLine: true, ...extra,
});
const arrow = (a: number[], b: number[], rot: number, r: number, color: string, w: number) => ({
  data: xy([a, b]), borderColor: color, backgroundColor: color, borderWidth: w, showLine: true,
  pointStyle: 'triangle', pointRadius: [0, r], pointRotation: rot, pointBorderWidth: 0,
});
const hid = (min: number, max: number, reverse = false) => ({ type: 'linear', display: false, min, max, reverse });
const opts = (scales: any, padding: any = 0) => ({
  responsive: false, animation: false, devicePixelRatio: 1, events: [], layout: { padding },
  plugins: { legend: { display: false }, tooltip: { enabled: false } }, scales,
});
const fitW = (w: number) => (s: any) => { s.width = w; s.paddingTop = 0; s.paddingBottom = 0; };
const fitH = (h: number) => (s: any) => { s.height = h; s.paddingLeft = 0; s.paddingRight = 0; };
const frame = (color: string, w: number) => ({
  id: 'frame',
  afterDatasetsDraw(c: any) {
    const a = c.chartArea, g = c.ctx;
    g.save(); g.strokeStyle = color; g.lineWidth = w;
    g.strokeRect(a.left, a.top, a.right - a.left, a.bottom - a.top); g.restore();
  },
});
const levels = (s: string) => s.replace(/\s/g, '').split('').map(Number);
const tint = (pts: number[][], lv: string) => { const l = levels(lv); return pts.map((_, i) => EXPR_COLORS[l[i % l.length]]); };

const umapCfg = (lvL: string, lvM: string, lvB: string, lvR: string, lvT: string) => ({
  type: 'scatter',
  data: {
    datasets: [
      dots(UMAP_TB, tint(UMAP_TB, lvT), 3.7), dots(UMAP_TR, tint(UMAP_TR, lvR), 3.7),
      dots(UMAP_B, tint(UMAP_B, lvB), 3.7), dots(UMAP_M, tint(UMAP_M, lvM), 3.7), dots(UMAP_L, tint(UMAP_L, lvL), 3.7),
    ],
  },
  options: opts({ x: hid(-5, 400), y: hid(-5, 310, true) }),
});
const umapB = () => ({
  type: 'scatter',
  data: {
    datasets: [
      arrow([6.3, 334], [6.3, 215], 0, 10, '#222', 1.8),
      arrow([6.3, 334], [130, 334], 90, 10, '#222', 1.8),
      dots(UMAP_STRAY_PINK, '#ee1493', 3), dots(UMAP_STRAY_ORANGE, ORANGE, 3), dots(UMAP_STRAY_GREEN, GREEN, 3),
      dots(UMAP_TB, '#1e90ff', 3), dots(UMAP_TR, '#ee2c2c', 3),
      dots(UMAP_B, '#ee1493', 3), dots(UMAP_M, GREEN, 3), dots(UMAP_L, ORANGE, 3),
    ],
  },
  options: opts({ x: hid(-26.3, 426.3), y: hid(-13, 387, true) }),
});

const stack = (rows: string[], series: { v: number[]; c: string[] }[], xMax: number, o: any = {}) => ({
  type: 'bar',
  data: {
    labels: rows,
    datasets: series.map(s => ({
      data: s.v, backgroundColor: s.c, borderColor: '#fff', borderWidth: o.border ?? 0,
      borderSkipped: false, barPercentage: 1, categoryPercentage: 1,
    })),
  },
  options: {
    ...opts({
      x: { type: 'linear', stacked: true, display: false, min: 0, max: xMax },
      y: o.axis ? {
        stacked: true, position: 'right', afterFit: fitW(o.axis),
        grid: { display: false, drawTicks: false }, border: { display: false },
        ticks: { autoSkip: false, padding: o.pad ?? 11, color: '#222', font: { size: 24, style: 'italic', family: FONT } },
      } : { stacked: true, display: false },
    }),
    indexAxis: 'y',
  },
});
const hRows = (labels: string[], a: number[], b: number[], axis: number) =>
  stack(labels, [
    { v: a.map(() => 1), c: a.map(i => H_SCALE[i]) },
    { v: b.map(() => 1), c: b.map(i => H_SCALE[i]) },
  ], 2, { axis, border: 1 });
const solid = (c: string) => stack([''], [{ v: [1], c: [c] }], 1);
const header = () => stack([''], [{ v: [1], c: [ORANGE] }, { v: [1], c: [RED] }], 2, { border: 1 });

const heatCfg = () => {
  const cols = C_GROUP_SIZES.reduce((a, b) => a + b, 0);
  const grid = C_ROWS.map(r => r.split('|').map((seg, k) => {
    const s = seg.replace(/\s/g, '');
    return s.padEnd(C_GROUP_SIZES[k], s[s.length - 1]).slice(0, C_GROUP_SIZES[k]);
  }).join(''));
  const arrows = {
    id: 'geneArrows',
    afterDraw(c: any) {
      const g = c.ctx, y = c.scales.y;
      g.save(); g.strokeStyle = '#000'; g.fillStyle = '#000'; g.lineWidth = 1.6;
      C_GENE_ROWS.forEach(([, r]) => {
        const p = y.getPixelForValue(r + 0.5);
        g.beginPath(); g.moveTo(113, p); g.lineTo(130, p); g.stroke();
        g.beginPath(); g.moveTo(127, p - 5.5); g.lineTo(139, p); g.lineTo(127, p + 5.5); g.closePath(); g.fill();
      });
      g.restore();
    },
  };
  return {
    type: 'bar',
    plugins: [arrows],
    data: {
      labels: Array.from({ length: cols }, (_, i) => i),
      datasets: grid.map((row, r) => ({
        data: row.split('').map(() => [r, r + 1]),
        backgroundColor: row.split('').map(d => C_HEAT_COLORS[+d]),
        borderWidth: 0, barPercentage: 1, categoryPercentage: 1, grouped: false,
      })),
    },
    options: opts({
      x: { display: false },
      y: {
        type: 'linear', reverse: true, min: 0, max: C_ROWS.length,
        afterFit: fitW(144),
        afterBuildTicks: (s: any) => { s.ticks = C_GENE_ROWS.map(g => ({ value: g[1] + 0.5 })); },
        grid: { display: false, drawTicks: false }, border: { display: false },
        ticks: {
          autoSkip: false, padding: 33, color: '#222', font: { size: 18, style: 'italic', family: FONT },
          callback: (v: number) => (C_GENE_ROWS.find(g => g[1] + 0.5 === v) || [''])[0],
        },
      },
    }),
  };
};

const goCfg = () => {
  const vals = [...D_PROLIF, ...D_CHEMO, ...D_CD8, ...D_ACT];
  const colors = [...D_PROLIF.map(() => RED), ...D_CHEMO.map(() => MAG), ...D_CD8.map(() => ORANGE), ...D_ACT.map(() => GREEN)];
  const dashes = {
    id: 'dashes',
    afterDatasetsDraw(c: any) {
      const g = c.ctx, a = c.chartArea, y = c.scales.y;
      g.save(); g.setLineDash([7, 5]); g.strokeStyle = '#aaa'; g.lineWidth = 1.5;
      D_BREAKS.forEach(b => { const p = y.getPixelForValue(b); g.beginPath(); g.moveTo(a.left - 2, p); g.lineTo(a.right, p); g.stroke(); });
      g.restore();
    },
  };
  return {
    type: 'bar',
    plugins: [dashes, frame('#444', 1.5)],
    data: { datasets: [{ data: vals.map((v, i) => ({ x: v, y: i })), backgroundColor: colors, borderWidth: 0, barPercentage: 0.88, categoryPercentage: 1 }] },
    options: {
      ...opts({
        x: {
          type: 'linear', min: -2.45, max: 51.45, position: 'bottom',
          afterBuildTicks: (s: any) => { s.ticks = [0,5,10,15,20,25,30,35,40,45,50].map(value => ({ value })); },
          afterFit: fitH(46),
          grid: { color: (c: any) => (c.tick.value % 10 === 0 ? '#e8e8e8' : '#f3f3f3'), tickLength: 4, tickColor: (c: any) => (c.tick.value % 10 === 0 ? '#555' : 'transparent') },
          border: { display: false },
          ticks: { autoSkip: false, maxRotation: 0, padding: 3, color: '#4d4d4d', font: { size: 18 }, callback: (v: number) => (v % 10 === 0 ? String(v) : '') },
          title: { display: true, text: 'Fold enrichment', color: '#111', font: { size: 18.5 }, padding: 0 },
        },
        y: {
          type: 'linear', reverse: true, min: -0.6, max: 38.6, offset: false,
          afterBuildTicks: (s: any) => { s.ticks = D_LABELS.map((_, i) => ({ value: i })); },
          afterFit: fitW(409.5),
          grid: { offset: false, color: '#efefef', tickLength: 4, tickColor: '#555' },
          border: { display: false },
          ticks: { autoSkip: false, padding: 2, color: '#222', font: { size: 18.2 }, callback: (v: number) => D_LABELS[v] },
        },
      }, { top: 2, right: 2 }),
      indexAxis: 'y',
    },
  };
};

const tree1 = () => ({
  type: 'scatter',
  data: {
    datasets: [
      dots([[0, 0]], '#000', 4),
      arrow([20, -52], [52, -87], 43, 11, '#444', 1.6),
      arrow([-67, -16], [-114, -16], -90, 11, '#444', 1.6),
      arrow([77, 50], [50, 18], -41, 11, '#444', 1.6),
      arrow([-91, -105], [-148, -105], -90, 11, '#444', 1.6),
      line(E1_LINE_L, '#222', 1.4), line(E1_LINE_U, '#222', 1.4, { tension: 0.2 }), line(E1_LINE_D, '#222', 1.4, { tension: 0.2 }),
      dots(E1_DN_BLOB, '#0f2a48', 3.2), dots(E1_DN_FAR, '#173a60', 2.6), dots(E1_DN_NEAR, '#234f7f', 3),
      dots(E1_UP_BLOB, '#5095d6', 3.2), dots(E1_UP_FAR, '#4a8fc8', 2.6), dots(E1_UP_NEAR, '#3a79ae', 2.6),
      dots(E1_LEFT, '#3f86c0', 2.2), dots(E1_BLOB, '#5aaaf0', 3.6),
    ],
  },
  options: opts({ x: hid(-243, 147), y: hid(-136, 124, true) }),
});
const tree2 = () => ({
  type: 'scatter',
  data: {
    datasets: [
      dots([[0, 0]], '#000', 3),
      line(E2_LINE_L, '#222', 1), line(E2_LINE_U, '#222', 1, { tension: 0.2 }), line(E2_LINE_D, '#222', 1, { tension: 0.2 }),
      dots(E2_TN, '#f08a5d', 3.2), dots(E2_TCM, '#f4a460', 1.8), dots(E2_GREEN, GREEN, 1.9),
      dots(E2_MAG, '#ee1493', 2.4), dots(E2_ORANGE, ORANGE, 2.4), dots(E2_RED, '#ee2c2c', 1.9), dots(E2_BLUE, '#1e90ff', 3.2),
    ],
  },
  options: opts({ x: hid(-234, 166), y: hid(-136, 124, true) }),
});

const volcano = () => {
  const leaders: any[] = [];
  V_LEADERS.forEach(l => { leaders.push({ x: l[0], y: l[1] }, { x: l[2], y: l[3] }, { x: l[2], y: NaN }); });
  const axis = (ticks: number[], extra: any) => ({
    type: 'linear',
    afterBuildTicks: (s: any) => { s.ticks = ticks.map(value => ({ value })); },
    grid: { color: '#bdbdbd', lineWidth: 1.5, tickLength: 5, tickColor: '#000', tickWidth: 1.5 },
    border: { color: '#000', width: 3, dash: [9, 7] },
    ...extra,
  });
  return {
    type: 'scatter',
    data: {
      datasets: [
        { data: leaders, borderColor: '#7a7a7a', borderWidth: 2.2, pointRadius: 0, showLine: true, spanGaps: false },
        dots(V_RED, RED, 7), dots(V_ORANGE, ORANGE, 7), dots(V_GRAY, '#bdbdbd', 7),
      ],
    },
    options: opts({
      x: axis(V_XTICKS, {
        min: -4.03, max: 3, afterFit: fitH(59),
        ticks: { padding: 4, maxRotation: 0, color: '#222', font: { size: 18 } },
        title: { display: true, text: 'avg_log2FC', color: '#111', font: { size: 27 }, padding: 0 },
      }),
      y: axis(V_YTICKS, {
        min: -5.9, max: 129.7, afterFit: fitW(58),
        ticks: { padding: 2, color: '#222', font: { size: 18 } },
        title: { display: true, text: '-Log10(p.adj)', color: '#111', font: { size: 27 }, padding: 0 },
      }),
    }, { top: 10, right: 6 }),
  };
};

const gsea = (rank: number[], es: number[], hits: number[], ribbon: number[], yMin: number, yMax: number, hitLo: number, hitHi: number, ribY: number, shown: number[], minor: number[], axisW: number) => {
  const h: any[] = [];
  hits.forEach(x => { h.push({ x, y: hitLo }, { x, y: hitHi }, { x, y: NaN }); });
  const segs = G_RIBBON_COLORS.map((c, i) => line([[ribbon[i], ribY], [ribbon[i + 1], ribY]], c, 10, { borderCapStyle: 'butt' }));
  const seps = [hitHi, hitLo];
  return {
    type: 'scatter',
    plugins: [frame('#8a8a8a', 2)],
    data: {
      datasets: [
        line(rank.map((r, i) => [r, es[i]]), '#1fe61f', 1.6),
        ...segs,
        { data: h, borderColor: '#111', borderWidth: 1, pointRadius: 0, showLine: true, spanGaps: false },
      ],
    },
    options: opts({
      x: {
        type: 'linear', min: 0, max: 100, afterBuildTicks: (s: any) => { s.ticks = [20,40,60,80].map(value => ({ value })); },
        afterFit: fitH(0),
        grid: { color: '#f4f4f4', drawTicks: false }, border: { display: false }, ticks: { display: false },
      },
      y: {
        type: 'linear', min: yMin, max: yMax,
        afterBuildTicks: (s: any) => { s.ticks = [...shown, ...minor, ...seps].map(value => ({ value })); },
        afterFit: fitW(axisW),
        grid: { color: (c: any) => (minor.includes(c.tick.value) ? '#f1f1f1' : '#bdbdbd'), drawTicks: false, lineWidth: 1.2 },
        border: { display: false },
        ticks: { autoSkip: false, padding: 8, color: '#111', font: { size: 20.5 }, callback: (v: number) => (shown.includes(v) ? String(v) : '') },
      },
    }, { top: 8, right: 5, bottom: 4 }),
  };
};

/* ---------- layout components ---------- */
function Box({ make, left, top, width, height }: any) {
  const ref = useRef<HTMLCanvasElement>(null);
  useEffect(() => {
    const ch = new Chart(ref.current as any, make());
    return () => ch.destroy();
  }, []);
  return <canvas ref={ref} width={width} height={height} style={{ position: 'absolute', left, top, width, height }} />;
}
function T({ x, y, s, c = '#111', i = false, b = false, a = 'c', r = 0, children }: any) {
  const tx = a === 'l' ? '0' : a === 'r' ? '-100%' : '-50%';
  return (
    <div style={{
      position: 'absolute', left: x, top: y, transform: `translate(${tx},-50%) rotate(${r}deg)`,
      fontFamily: FONT, fontSize: s, color: c, fontStyle: i ? 'italic' : 'normal', fontWeight: b ? 700 : 400,
      whiteSpace: 'nowrap', lineHeight: 1,
    }}>{children}</div>
  );
}
const Tag = (p: any) => <T s={24} i b {...p} />;

export default function App() {
  return (
    <div style={{ position: 'absolute', left: 0, top: 0, width: 1506, height: 2157, background: '#fff', overflow: 'hidden' }}>
      {/* A, B */}
      <Box make={() => umapCfg(CD8A_L, CD8A_M, CD8A_B, CD8A_TR, CD8A_TB)} left={75} top={85} width={405} height={315} />
      <Box make={() => umapCfg(CD8B_L, CD8B_M, CD8B_B, CD8B_TR, CD8B_TB)} left={528} top={85} width={405} height={315} />
      <Box make={umapB} left={1000} top={40} width={430} height={400} />
      <T x={0} y={16} s={27} b a="l" c="#000">A</T>
      <T x={975} y={16} s={27} b a="l" c="#000">B</T>
      <T x={267} y={55} s={27} i>Cd8a</T>
      <T x={731} y={55} s={27} i>Cd8b1</T>
      <T x={1222} y={27} s={27}>TG CD8Tem</T>
      <Tag x={1114} y={116} a="l" c={ORANGE}>CD8αα T</Tag>
      <Tag x={1285} y={193} a="l" c={RED}>proliferation</Tag>
      <Tag x={1198} y={241} a="l" c={GREEN}>activated</Tag>
      <Tag x={1237} y={327} a="l" c={TXT_MAG}>chemotaxis</Tag>
      <T x={1004} y={338} s={26} r={-90}>umap2</T>
      <T x={1083} y={416} s={26}>umap1</T>

      {/* C */}
      <T x={1} y={485} s={27} b a="l" c="#000">C</T>
      <Tag x={203} y={499} a="l" c={ORANGE}>CD8αα</Tag>
      <Tag x={306} y={499} a="l" c={GREEN}>activated</Tag>
      <Tag x={418} y={499} a="l" c={TXT_MAG}>chemotaxis</Tag>
      <Tag x={556} y={499} a="l" c={RED}>proliferation</Tag>
      <Box make={() => stack([''], C_GROUP_SIZES.map((v, i) => ({ v: [v], c: [C_GROUP_COLORS[i]] })), 136)} left={143} top={518} width={545} height={13} />
      <Box make={heatCfg} left={0} top={541} width={688} height={657} />
      <div style={{ position: 'absolute', left: 709, top: 542, width: 17, height: 85, background: 'linear-gradient(#b2182b,#f4a582 25%,#f7f7f7 50%,#92c5de 75%,#2166ac)' }} />
      {[['2', 549], ['1', 567], ['0', 583], ['-1', 599], ['-2', 616]].map(([t, y]) => <T key={t as string} x={746} y={y} s={18} a="r">{t}</T>)}

      {/* D */}
      <T x={813} y={486} s={27} b a="l" c="#000">D</T>
      <T x={1294} y={507} s={24} b c="#000">Top10 GO upregulated pathway</T>
      <Box make={goCfg} left={720} top={528} width={740} height={712} />
      <T x={726} y={891} s={18.5} r={-90}>pathway</T>
      <Tag x={1434} y={675} a="r" c={RED}>proliferation</Tag>
      <Tag x={1434} y={828} a="r" c={TXT_MAG}>chemotaxis</Tag>
      <Tag x={1435} y={998} a="r" c={ORANGE}>CD8αα</Tag>
      <Tag x={1435} y={1169} a="r" c={GREEN}>activated</Tag>

      {/* E */}
      <T x={1} y={1238} s={27} b a="l" c="#000">E</T>
      <div style={{ position: 'absolute', left: 93, top: 1267, width: 116, height: 34, background: 'linear-gradient(to right,#56b1f7,#132b43)' }} />
      {E_BAR_TICKS.map(x => <div key={x} style={{ position: 'absolute', left: x, top: 1267, width: 1, height: 5, background: '#dfe9f2' }} />)}
      {E_BAR_TICKS.map(x => <div key={x} style={{ position: 'absolute', left: x, top: 1296, width: 1, height: 5, background: '#dfe9f2' }} />)}
      <Box make={tree1} left={30} top={1250} width={390} height={260} />
      <Box make={tree2} left={380} top={1250} width={400} height={260} />
      <T x={118} y={1315} s={24}>15</T>
      <T x={205} y={1315} s={24}>0</T>
      <Tag x={618} y={1267} a="l" c={ORANGE}>CD8αα</Tag>
      <Tag x={441} y={1323} a="l" c={RED}>proliferation</Tag>
      <Tag x={665} y={1376} a="l" c={TXT_MAG}>chemotaxis</Tag>
      <Tag x={663} y={1406} a="l" c={GREEN}>activated</Tag>
      <Tag x={654} y={1461} a="r" c="#f0a050">Tcm</Tag>
      <Tag x={654} y={1492} a="r" c={RED}>Tnaive</Tag>

      {/* G */}
      <T x={812} y={1238} s={27} b a="l" c="#000">G</T>
      <Box make={() => gsea(G1_RANK, G1_ES, G1_HITS, G1_RIBBON, -0.327, 0.548, -0.271, -0.069, -0.296, [0.5, 0], [0.4, 0.3, 0.2, 0.1], 52)} left={820} top={1310} width={355} height={185} />
      <Box make={() => gsea(G2_RANK, G2_ES, G2_HITS, G2_RIBBON, -0.876, 0.0595, -0.816, -0.6, -0.843, [0, -0.6], [-0.1, -0.2, -0.3, -0.4, -0.5], 53.5)} left={1160} top={1310} width={335} height={185} />
      <T x={1016} y={1268} s={24}>HALLMARK TNFA</T>
      <T x={1016} y={1303} s={24}>SIGNALING VIA NFKB</T>
      <T x={1343} y={1268} s={24}>HALLMARK MTOR1</T>
      <T x={1343} y={1303} s={24}>SIGNALING</T>
      {[['NES 2.3840', 1333], ['p.value 0.0', 1358], ['q.value 0.0', 1384]].map(([t, y]) => <T key={t as string} x={1047} y={y} s={21} a="l">{t}</T>)}
      {[['NES -1.7650', 1333], ['p.value 0.0', 1358], ['q.value 0.0002', 1384]].map(([t, y]) => <T key={t as string} x={1353} y={y} s={21} a="l">{t}</T>)}
      <T x={879} y={1508} s={24} a="l" c={ORANGE}>CD8αα</T>
      <T x={1029} y={1508} s={24} a="l" c={RED}>Proliferation</T>
      <T x={1210} y={1508} s={24} a="l" c={ORANGE}>CD8αα</T>
      <T x={1359} y={1508} s={24} a="l" c={RED}>Proliferation</T>

      {/* F */}
      <T x={3} y={1558} s={27} b a="l" c="#000">F</T>
      <Box make={volcano} left={-4} top={1580} width={839} height={577} />
      {V_LABEL_LAYOUT.map(([t, x, y]) => <T key={t} x={x} y={y} s={18} i>{t}</T>)}
      <Tag x={272} y={1613} c={RED}>proliferation</Tag>
      <Tag x={684} y={1613} c={ORANGE}>CD8αα</Tag>

      {/* H */}
      <T x={813} y={1558} s={27} b a="l" c="#000">H</T>
      <Box make={header} left={914} top={1594} width={58} height={28} />
      <Box make={header} left={1143} top={1594} width={58} height={28} />
      <Box make={header} left={1357} top={1594} width={58} height={28} />
      <Box make={() => solid('#6495ed')} left={889} top={1632} width={13} height={330} />
      <Box make={() => solid(RED)} left={889} top={1968} width={13} height={149} />
      <Box make={() => solid('#00b050')} left={1114} top={1633} width={13} height={421} />
      <Box make={() => solid('#f9a8d4')} left={1332} top={1632} width={14} height={330} />
      <Box make={() => hRows(H_INHIB, H_INHIB_A, H_INHIB_B, 130)} left={914} top={1633} width={188} height={331} />
      <Box make={() => hRows(H_STIM, H_STIM_A, H_STIM_B, 130)} left={914} top={1968} width={188} height={150} />
      <Box make={() => hRows(H_TF, H_TF_A, H_TF_B, 110)} left={1143} top={1633} width={168} height={422} />
      <Box make={() => hRows(H_EFF, H_EFF_A, H_EFF_B, 91)} left={1357} top={1633} width={149} height={331} />
      <Box make={() => stack([''], H_SCALE.map(c => ({ v: [1], c: [c] })), H_SCALE.length)} left={1330} top={1980} width={120} height={10} />
      <T x={866} y={1792} s={26.5} r={-90}>Inhibitory</T>
      <T x={864} y={2042} s={26.5} r={-90}>Stimulatory</T>
      <T x={1093} y={1842} s={27} r={-90}>Transcription factor</T>
      <T x={1314} y={1788} s={27} r={-90}>Effector</T>
      <T x={1332} y={2004} s={23}>low</T>
      <T x={1389} y={2004} s={23}>0</T>
      <T x={1450} y={2004} s={23}>hi</T>
    </div>
  );
}
